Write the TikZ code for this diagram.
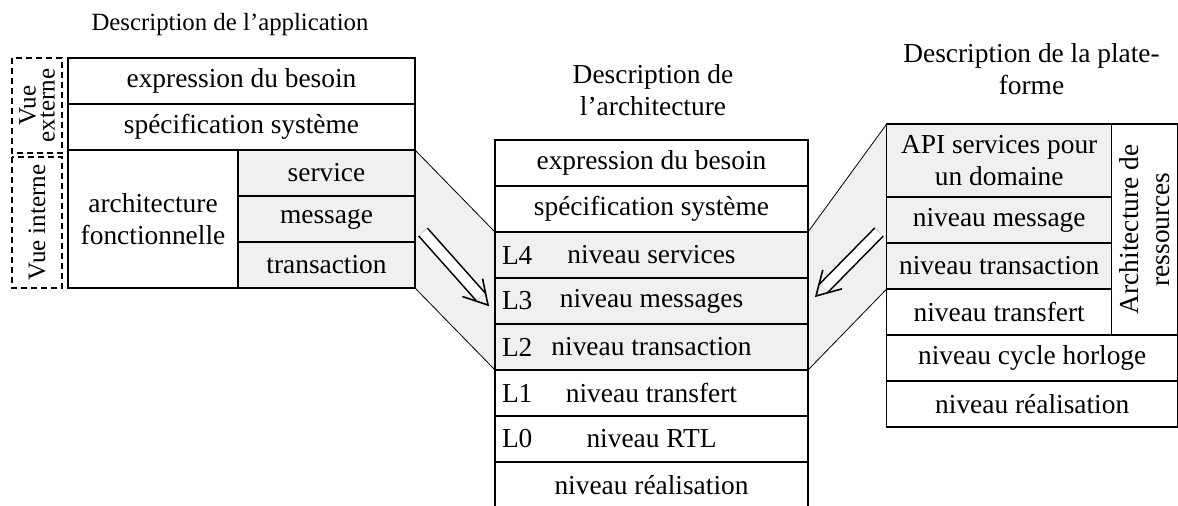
\documentclass[tikz,border=0pt]{standalone}
\usepackage{fontspec}
\setmainfont{Liberation Serif}
\usetikzlibrary{positioning,calc,backgrounds}

\begin{document}
\begin{tikzpicture}[x=0.5pt,y=-0.5pt,
  every node/.style={outer sep=0pt, font=\fontsize{13.7}{15.8}\selectfont},
  box/.style={draw, line width=0.6pt, minimum height=23pt, inner sep=2pt},
  shaded/.style={box, fill=gray!12},
  title/.style={align=center},
  lvl/.style={label={[anchor=west, inner sep=3.5pt]west:#1}},
  vue/.style={draw, dash pattern=on 3pt off 2pt, line width=0.6pt, rotate=90, minimum height=25pt, align=center, font=\fontsize{12.5}{9.5}\selectfont},
  refine/.style={double, double distance=5pt, line width=0.8pt, shorten >=5.5pt},
  tipV/.style={line width=0.8pt, line join=miter}]
\useasboundingbox (0,0) rectangle (1178,505);

% Description de l'application
\node (titleApp) [title, font=\fontsize{12.4}{15}\selectfont] at (230,25) {Description de l'application};
\node (besoinA) [box, minimum width=173.5pt, anchor=north west] at (68,58) {expression du besoin};
\node (specA) [box, minimum width=173.5pt, below=0pt of besoinA] {spécification système};
\node (archF) [box, minimum width=85pt, minimum height=69pt, align=center, below right=0pt of specA.south west] {architecture\\fonctionnelle};
\node (service) [shaded, minimum width=88.5pt, below right=0pt of archF.north east] {service};
\node (message) [shaded, minimum width=88.5pt, below=0pt of service] {message};
\node (transaction) [shaded, minimum width=88.5pt, below=0pt of message] {transaction};
\node (vueExt) [vue, minimum width=47.5pt] at (37,105.5) {Vue\\externe};
\node (vueInt) [vue, minimum width=65.5pt] at (37,222.5) {Vue interne};

% Description de l'architecture
\node (titleArch) [title] at (653,90) {Description de\\l'architecture};
\node (besoinB) [box, minimum width=156.5pt, anchor=north] at (651.5,140) {expression du besoin};
\node (specB) [box, minimum width=156.5pt, below=0pt of besoinB] {spécification système};
\node (lServ) [shaded, minimum width=156.5pt, lvl=L4, below=0pt of specB] {niveau services};
\node (lMsg) [shaded, minimum width=156.5pt, lvl=L3, below=0pt of lServ] {niveau messages};
\node (lTrans) [shaded, minimum width=156.5pt, lvl=L2, below=0pt of lMsg] {niveau transaction};
\node (lTransf) [box, minimum width=156.5pt, lvl=L1, below=0pt of lTrans] {niveau transfert};
\node (lRtl) [box, minimum width=156.5pt, lvl=L0, below=0pt of lTransf] {niveau RTL};
\node (realB) [box, minimum width=156.5pt, below=0pt of lRtl] {niveau réalisation};

% Description de la plate-forme
\node (titlePlat) [title] at (1031.5,69) {Description de la plate-\\forme};
\node (api) [shaded, minimum width=112.5pt, minimum height=36.5pt, align=center, anchor=north west] at (886.7,124) {API services pour\\un domaine};
\node (msgR) [shaded, minimum width=112.5pt, below=0pt of api] {niveau message};
\node (transR) [shaded, minimum width=112.5pt, below=0pt of msgR] {niveau transaction};
\node (transfR) [box, minimum width=112.5pt, below=0pt of transR] {niveau transfert};
\node (archRes) [box, rotate=90, minimum width=105.5pt, minimum height=33pt, align=center, anchor=north east] at (api.north east) {Architecture de\\ressources};
\node (horloge) [box, minimum width=145.5pt, below right=0pt of transfR.south west] {niveau cycle horloge};
\node (realR) [box, minimum width=145.5pt, below=0pt of horloge] {niveau réalisation};

% Correspondances
\begin{pgfonlayer}{background}
\fill[gray!12] (service.north east) -- (lServ.north west) -- (lTrans.south west) -- (transaction.south east) -- cycle;
\fill[gray!12] (api.north west) -- (lServ.north east) -- (lTrans.south east) -- (transR.south west) -- cycle;
\end{pgfonlayer}
\draw (service.north east) -- (lServ.north west);
\draw (transaction.south east) -- (lTrans.south west);
\draw (api.north west) -- (lServ.north east);
\draw (transR.south west) -- (lTrans.south east);

% Raffinement
\coordinate (fromApp) at (423,232);
\coordinate (toArchL) at (488,305);
\coordinate (fromPlat) at (879,232);
\coordinate (toArchR) at (816,296);
\draw[refine] (fromApp) -- (toArchL);
\draw[tipV] ($(toArchL)!13.5pt!30:(fromApp)$) -- (toArchL) -- ($(toArchL)!13.5pt!-30:(fromApp)$);
\draw[refine] (fromPlat) -- (toArchR);
\draw[tipV] ($(toArchR)!13.5pt!30:(fromPlat)$) -- (toArchR) -- ($(toArchR)!13.5pt!-30:(fromPlat)$);
\end{tikzpicture}
\end{document}
